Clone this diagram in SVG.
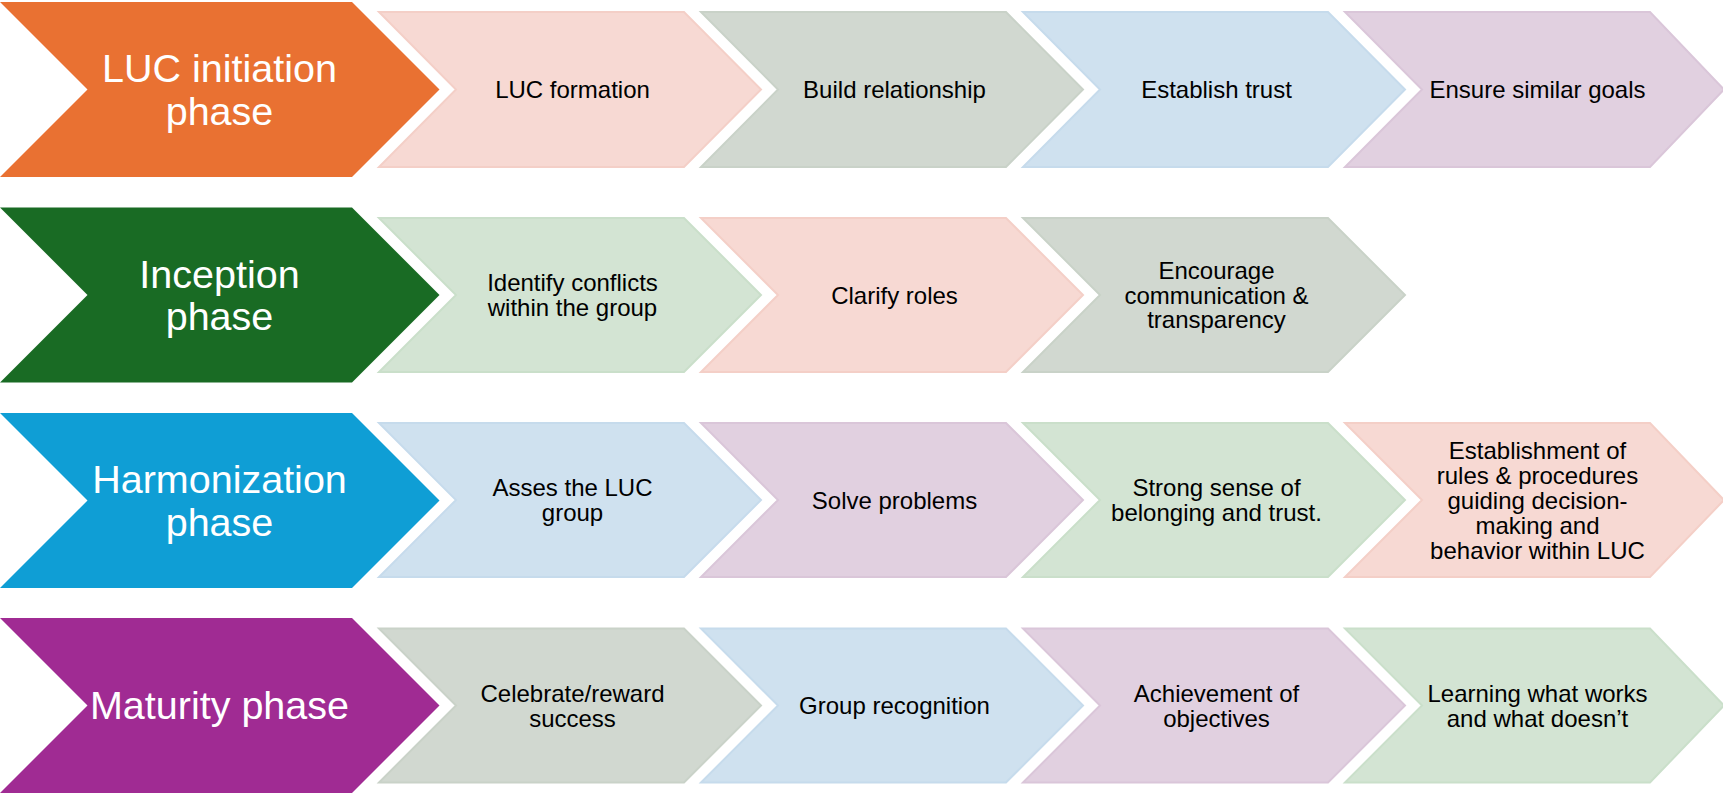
<svg xmlns="http://www.w3.org/2000/svg" width="1723" height="793" viewBox="0 0 1723 793">
  <style>
    .phase-label { font-family: "Liberation Sans", Arial, sans-serif; font-size: 39.5px; fill: #ffffff; text-anchor: middle; }
    .step-label { font-family: "Liberation Sans", Arial, sans-serif; font-size: 24px; fill: #000000; text-anchor: middle; }
    .pink { fill: #F7D9D3; stroke: #F4CFC7; stroke-width: 2; }
    .sage { fill: #D1D8D0; stroke: #C9D2C8; stroke-width: 2; }
    .sky { fill: #CFE1EF; stroke: #C6DBEC; stroke-width: 2; }
    .lilac { fill: #E1D0E0; stroke: #DAC6D9; stroke-width: 2; }
    .mint { fill: #D3E4D3; stroke: #CADFCA; stroke-width: 2; }
  </style>

  <!-- Row 1: LUC initiation phase -->
  <g id="phase-initiation">
    <polygon points="0,2 352,2 439.5,89.5 352,177 0,177 87.5,89.5" fill="#E97132"/>
    <text class="phase-label" x="219.5" y="82">LUC initiation</text>
    <text class="phase-label" x="219.5" y="124.5">phase</text>
  </g>
  <g id="step-luc-formation">
    <polygon class="pink" points="379,12 684,12 761,89.5 684,167 379,167 456,89.5"/>
    <text class="step-label" x="572.5" y="97.5">LUC formation</text>
  </g>
  <g id="step-build-relationship">
    <polygon class="sage" points="701,12 1006,12 1083,89.5 1006,167 701,167 778,89.5"/>
    <text class="step-label" x="894.5" y="97.5">Build relationship</text>
  </g>
  <g id="step-establish-trust">
    <polygon class="sky" points="1023,12 1328,12 1405,89.5 1328,167 1023,167 1100,89.5"/>
    <text class="step-label" x="1216.5" y="97.5">Establish trust</text>
  </g>
  <g id="step-similar-goals">
    <polygon class="lilac" points="1345,12 1650,12 1724,89.5 1650,167 1345,167 1422,89.5"/>
    <text class="step-label" x="1537.5" y="97.5">Ensure similar goals</text>
  </g>

  <!-- Row 2: Inception phase -->
  <g id="phase-inception">
    <polygon points="0,207.5 352,207.5 439.5,295 352,382.5 0,382.5 87.5,295" fill="#196B24"/>
    <text class="phase-label" x="219.5" y="287.5">Inception</text>
    <text class="phase-label" x="219.5" y="330">phase</text>
  </g>
  <g id="step-identify-conflicts">
    <polygon class="mint" points="379,218 684,218 761,295 684,372 379,372 456,295"/>
    <text class="step-label" x="572.5" y="291.1">Identify conflicts</text>
    <text class="step-label" x="572.5" y="315.9">within the group</text>
  </g>
  <g id="step-clarify-roles">
    <polygon class="pink" points="701,218 1006,218 1083,295 1006,372 701,372 778,295"/>
    <text class="step-label" x="894.5" y="303.5">Clarify roles</text>
  </g>
  <g id="step-encourage-communication">
    <polygon class="sage" points="1023,218 1328,218 1405,295 1328,372 1023,372 1100,295"/>
    <text class="step-label" x="1216.5" y="278.7">Encourage</text>
    <text class="step-label" x="1216.5" y="303.5">communication &amp;</text>
    <text class="step-label" x="1216.5" y="328.3">transparency</text>
  </g>

  <!-- Row 3: Harmonization phase -->
  <g id="phase-harmonization">
    <polygon points="0,413 352,413 439.5,500.5 352,588 0,588 87.5,500.5" fill="#0F9ED5"/>
    <text class="phase-label" x="219.5" y="493">Harmonization</text>
    <text class="phase-label" x="219.5" y="535.5">phase</text>
  </g>
  <g id="step-assess-group">
    <polygon class="sky" points="379,423 684,423 761,500 684,577 379,577 456,500"/>
    <text class="step-label" x="572.5" y="496.1">Asses the LUC</text>
    <text class="step-label" x="572.5" y="520.9">group</text>
  </g>
  <g id="step-solve-problems">
    <polygon class="lilac" points="701,423 1006,423 1083,500 1006,577 701,577 778,500"/>
    <text class="step-label" x="894.5" y="508.5">Solve problems</text>
  </g>
  <g id="step-sense-of-belonging">
    <polygon class="mint" points="1023,423 1328,423 1405,500 1328,577 1023,577 1100,500"/>
    <text class="step-label" x="1216.5" y="496.1">Strong sense of</text>
    <text class="step-label" x="1216.5" y="520.9">belonging and trust.</text>
  </g>
  <g id="step-rules-procedures">
    <polygon class="pink" points="1345,423 1650,423 1724,500 1650,577 1345,577 1422,500"/>
    <text class="step-label" x="1537.5" y="459.3">Establishment of</text>
    <text class="step-label" x="1537.5" y="484.1">rules &amp; procedures</text>
    <text class="step-label" x="1537.5" y="508.9">guiding decision-</text>
    <text class="step-label" x="1537.5" y="533.7">making and</text>
    <text class="step-label" x="1537.5" y="558.5">behavior within LUC</text>
  </g>

  <!-- Row 4: Maturity phase -->
  <g id="phase-maturity">
    <polygon points="0,618 352,618 439.5,705.5 352,793 0,793 87.5,705.5" fill="#A02B93"/>
    <text class="phase-label" x="219.5" y="719">Maturity phase</text>
  </g>
  <g id="step-celebrate-success">
    <polygon class="sage" points="379,628.5 684,628.5 761,705.5 684,782.5 379,782.5 456,705.5"/>
    <text class="step-label" x="572.5" y="702.1">Celebrate/reward</text>
    <text class="step-label" x="572.5" y="726.9">success</text>
  </g>
  <g id="step-group-recognition">
    <polygon class="sky" points="701,628.5 1006,628.5 1083,705.5 1006,782.5 701,782.5 778,705.5"/>
    <text class="step-label" x="894.5" y="714">Group recognition</text>
  </g>
  <g id="step-achievement">
    <polygon class="lilac" points="1023,628.5 1328,628.5 1405,705.5 1328,782.5 1023,782.5 1100,705.5"/>
    <text class="step-label" x="1216.5" y="702.1">Achievement of</text>
    <text class="step-label" x="1216.5" y="726.9">objectives</text>
  </g>
  <g id="step-learning">
    <polygon class="mint" points="1345,628.5 1650,628.5 1724,705.5 1650,782.5 1345,782.5 1422,705.5"/>
    <text class="step-label" x="1537.5" y="702.1">Learning what works</text>
    <text class="step-label" x="1537.5" y="726.9">and what doesn’t</text>
  </g>

  <!-- the chevrons abut one another; no separate connector lines are drawn -->
  <g id="connectors"/>
</svg>
